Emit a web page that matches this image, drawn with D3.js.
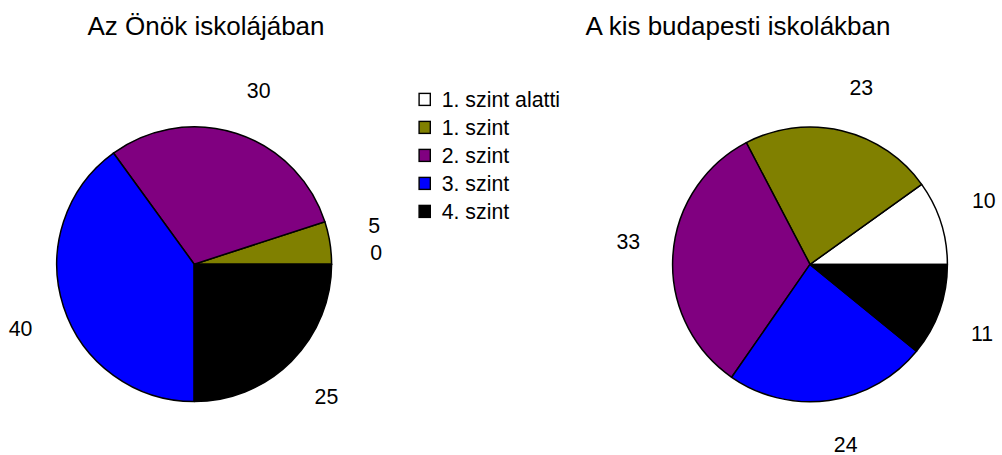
<!DOCTYPE html>
<html>
<head>
<meta charset="utf-8">
<script src="https://cdn.jsdelivr.net/npm/d3@7"></script>
<style>
  html, body { margin: 0; padding: 0; background: #fff; }
  svg { display: block; font-family: "Liberation Sans", Arial, sans-serif; }
</style>
</head>
<body>
<svg id="chart" width="1002" height="455"></svg>
<script>
// ---- data ----
const categories = ["1. szint alatti", "1. szint", "2. szint", "3. szint", "4. szint"];
const colors = ["#FFFFFF", "#808000", "#800080", "#0000FF", "#000000"];
const titles = ["Az Önök iskolájában", "A kis budapesti iskolákban"];
const valuesLocal = [0, 5, 30, 40, 25];      // Az Önök iskolájában
const valuesBudapest = [10, 23, 33, 24, 11]; // A kis budapesti iskolákban

// ---- layout ----
const W = 1002, H = 455;
const svg = d3.select("#chart");
const radius = 137.4;
const labelFont = 21.3;
const titleFont = 26;

const pies = [
  { title: titles[0], values: valuesLocal, cx: 194.2, cy: 264.2, tx: 206 },
  { title: titles[1], values: valuesBudapest, cx: 810, cy: 264.4, tx: 738 }
];

const color = d3.scaleOrdinal().domain(categories).range(colors);

// counter-clockwise from 3 o'clock
const pieGen = d3.pie()
  .sort(null)
  .value(d => d.v)
  .startAngle(Math.PI / 2)
  .endAngle(Math.PI / 2 - 2 * Math.PI);

const arcGen = d3.arc().innerRadius(0).outerRadius(radius);

pies.forEach(p => {
  const data = categories.map((c, i) => ({ c: c, v: p.values[i] }));
  const arcs = pieGen(data);

  svg.append("text")
    .attr("x", p.tx)
    .attr("y", 34.5)
    .attr("text-anchor", "middle")
    .attr("font-size", titleFont)
    .attr("fill", "#000")
    .text(p.title);

  const g = svg.append("g").attr("transform", `translate(${p.cx},${p.cy})`);

  g.selectAll("path")
    .data(arcs)
    .join("path")
    .attr("d", arcGen)
    .attr("fill", d => color(d.data.c))
    .attr("stroke", "#000")
    .attr("stroke-width", 1.5)
    .attr("stroke-linejoin", "round");

  // labels: placed outside, box-corner style offset
  const D = radius + 32.6, s = 12;
  g.selectAll("text.lbl")
    .data(arcs)
    .join("text")
    .attr("class", "lbl")
    .attr("x", d => {
      const a = (d.startAngle + d.endAngle) / 2;
      const sa = Math.sin(a);
      return D * sa + s * (sa >= -1e-9 ? 1 : -1);
    })
    .attr("y", d => {
      const a = (d.startAngle + d.endAngle) / 2;
      const ca = Math.cos(a);
      return -D * ca - s * (ca >= -1e-9 ? 1 : -1) + 0.358 * labelFont;
    })
    .attr("text-anchor", "middle")
    .attr("font-size", labelFont)
    .attr("fill", "#000")
    .text(d => d.data.v);
});

// ---- legend ----
const legend = svg.append("g").attr("transform", "translate(419.1,99.4)");
const rowH = 28;
const item = legend.selectAll("g")
  .data(categories)
  .join("g")
  .attr("transform", (d, i) => `translate(0,${i * rowH})`);
item.append("rect")
  .attr("x", 0).attr("y", -6)
  .attr("width", 11.2).attr("height", 12)
  .attr("fill", d => color(d))
  .attr("stroke", "#000")
  .attr("stroke-width", 1.4);
item.append("text")
  .attr("x", 22.6)
  .attr("y", 0.358 * labelFont)
  .attr("font-size", labelFont)
  .attr("fill", "#000")
  .text(d => d);
</script>
</body>
</html>
